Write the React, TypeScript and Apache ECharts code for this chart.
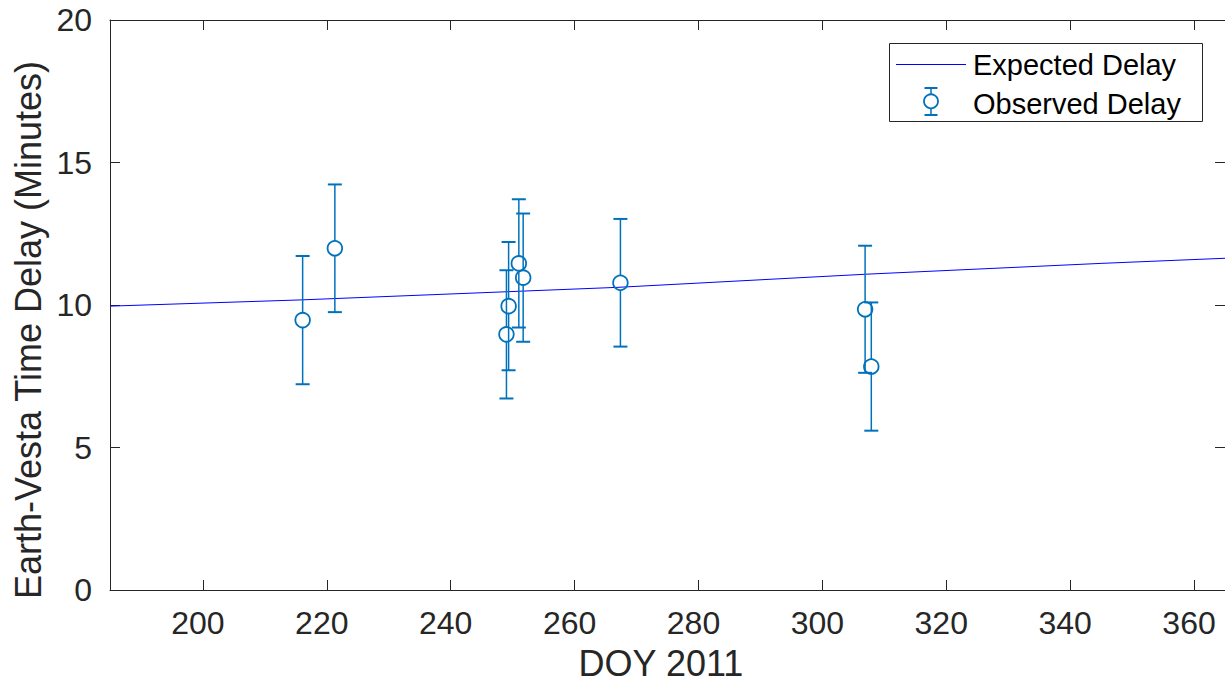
import React, { useEffect, useRef } from "react";
import * as echarts from "echarts";

// ---- data ----
const obsDoy = [216.1, 221.3, 249.0, 249.35, 251.0, 251.7, 267.4, 306.9, 307.9];
const obsDelay = [9.47, 11.99, 8.97, 9.96, 11.46, 10.96, 10.78, 9.85, 7.84];
const obsErr = [2.25, 2.24, 2.25, 2.25, 2.25, 2.25, 2.24, 2.23, 2.25];

const expDoy = [185, 216, 267, 307, 345, 365];
const expDelay = [9.96, 10.18, 10.62, 11.08, 11.46, 11.64];

const xTicks = [200, 220, 240, 260, 280, 300, 320, 340, 360];
const xName = "DOY 2011";
const yName = "Earth-Vesta Time Delay (Minutes)";
const legendNames = ["Expected Delay", "Observed Delay"];

const FONT = "'Liberation Sans', Arial, Helvetica, sans-serif";
const AXIS = "#262626";
const EB = "#0072BD";

export default function App() {
  const ref = useRef<HTMLDivElement>(null);
  useEffect(() => {
    if (!ref.current) return;
    const chart = echarts.init(ref.current, null, { renderer: "svg" });
    const axisCommon = {
      type: "value",
      axisLine: { show: true, onZero: false, lineStyle: { color: AXIS, width: 1 } },
      splitLine: { show: false },
    };
    const ebData = obsDoy.map((x, i) => [x, obsDelay[i], obsDelay[i] - obsErr[i], obsDelay[i] + obsErr[i]]);
    const option: any = {
      animation: false,
      grid: { left: 110, top: 20, right: 0, bottom: 92, outerBoundsMode: "none" },
      xAxis: [
        {
          ...axisCommon,
          min: 185,
          max: 365,
          position: "bottom",
          axisTick: { show: true, inside: true, length: 10, customValues: xTicks, lineStyle: { color: AXIS } },
          axisLabel: { customValues: xTicks, margin: 17, fontSize: 32, color: AXIS, fontFamily: FONT, padding: [0, 10, 0, 0] },
        },
        {
          ...axisCommon,
          min: 185,
          max: 365,
          position: "top",
          axisTick: { show: true, inside: true, length: 10, customValues: xTicks, lineStyle: { color: AXIS } },
          axisLabel: { show: false },
        },
      ],
      yAxis: [
        {
          ...axisCommon,
          min: 0,
          max: 20,
          interval: 5,
          position: "left",
          axisTick: { show: true, inside: true, length: 10, lineStyle: { color: AXIS } },
          axisLabel: { margin: 18, fontSize: 32, color: AXIS, fontFamily: FONT },
        },
        {
          ...axisCommon,
          min: 0,
          max: 20,
          interval: 5,
          position: "right",
          axisTick: { show: true, inside: true, length: 10, lineStyle: { color: AXIS } },
          axisLabel: { show: false },
        },
      ],
      series: [
        {
          name: legendNames[0],
          type: "line",
          data: expDoy.map((x, i) => [x, expDelay[i]]),
          symbol: "none",
          lineStyle: { color: "#0000FF", width: 1 },
          z: 2,
        },
        {
          name: legendNames[1],
          type: "custom",
          data: ebData,
          encode: { x: 0, y: [1, 2, 3] },
          z: 3,
          renderItem: (params: any, api: any) => {
            const x = api.value(0);
            const y = api.value(1);
            const lo = api.value(2);
            const hi = api.value(3);
            const c = api.coord([x, y]);
            const pHi = api.coord([x, hi]);
            const pLo = api.coord([x, lo]);
            const r = 7.3;
            const cw = 7;
            const st = { stroke: EB, lineWidth: 1.5 };
            return {
              type: "group",
              children: [
                { type: "line", shape: { x1: c[0], y1: pHi[1], x2: c[0], y2: c[1] - r }, style: st },
                { type: "line", shape: { x1: c[0], y1: c[1] + r, x2: c[0], y2: pLo[1] }, style: st },
                { type: "line", shape: { x1: c[0] - cw, y1: pHi[1], x2: c[0] + cw, y2: pHi[1] }, style: { stroke: EB, lineWidth: 2 } },
                { type: "line", shape: { x1: c[0] - cw, y1: pLo[1], x2: c[0] + cw, y2: pLo[1] }, style: { stroke: EB, lineWidth: 2 } },
                { type: "circle", shape: { cx: c[0], cy: c[1], r }, style: { fill: "none", stroke: EB, lineWidth: 1.8 } },
              ],
            };
          },
        },
      ],
      graphic: [
        {
          type: "text",
          x: 661,
          y: 663,
          style: { text: xName, font: `36px ${FONT}`, fill: AXIS, align: "center", verticalAlign: "middle" },
        },
        {
          type: "text",
          x: 28,
          y: 330,
          rotation: Math.PI / 2,
          style: { text: yName, font: `36px ${FONT}`, fill: AXIS, align: "center", verticalAlign: "middle" },
        },
        {
          type: "group",
          z: 100,
          children: [
            { type: "rect", shape: { x: 889.5, y: 43.5, width: 313, height: 78 }, style: { fill: "#ffffff", stroke: AXIS, lineWidth: 1 } },
            { type: "line", shape: { x1: 896, y1: 64.5, x2: 966, y2: 64.5 }, style: { stroke: "#0000FF", lineWidth: 1 } },
            { type: "text", x: 973, y: 65, style: { text: legendNames[0], font: `29px ${FONT}`, fill: "#000000", align: "left", verticalAlign: "middle" } },
            { type: "line", shape: { x1: 931, y1: 88, x2: 931, y2: 94 }, style: { stroke: EB, lineWidth: 1.5 } },
            { type: "line", shape: { x1: 931, y1: 108.6, x2: 931, y2: 115 }, style: { stroke: EB, lineWidth: 1.5 } },
            { type: "line", shape: { x1: 924.5, y1: 88, x2: 937.5, y2: 88 }, style: { stroke: EB, lineWidth: 2 } },
            { type: "line", shape: { x1: 924.5, y1: 115, x2: 937.5, y2: 115 }, style: { stroke: EB, lineWidth: 2 } },
            { type: "circle", shape: { cx: 931, cy: 101.3, r: 7 }, style: { fill: "none", stroke: EB, lineWidth: 1.8 } },
            { type: "text", x: 973, y: 104, style: { text: legendNames[1], font: `29px ${FONT}`, fill: "#000000", align: "left", verticalAlign: "middle" } },
          ],
        },
      ],
    };
    chart.setOption(option);
    return () => chart.dispose();
  }, []);
  return (
    <div
      ref={ref}
      style={{ position: "absolute", left: 0, top: 0, width: 1225, height: 682, background: "#ffffff" }}
    />
  );
}
